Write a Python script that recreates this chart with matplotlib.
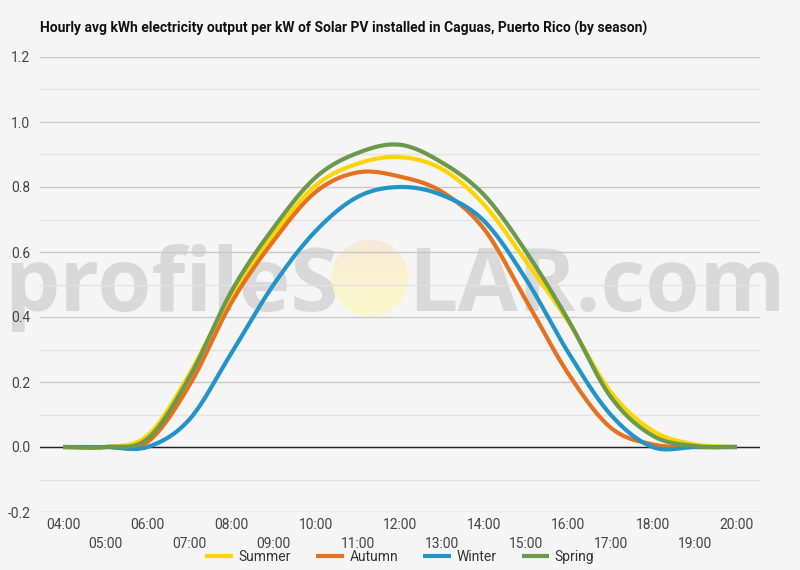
import numpy as np
import matplotlib
matplotlib.use("Agg")
import matplotlib.pyplot as plt
from matplotlib.patches import Circle
from matplotlib.ticker import MultipleLocator

# hourly values (04:00 .. 20:00)
hours = np.arange(4, 21)
hour_labels = [f"{h:02d}:00" for h in hours]
summer = [0, 0, 0.035, 0.225, 0.47, 0.655, 0.805, 0.872, 0.892, 0.855, 0.745, 0.57, 0.385, 0.17, 0.05, 0.008, 0]
autumn = [0, 0, 0.015, 0.19, 0.445, 0.635, 0.785, 0.845, 0.832, 0.785, 0.67, 0.45, 0.225, 0.06, 0.008, 0, 0]
winter = [0, 0, 0, 0.085, 0.29, 0.50, 0.665, 0.77, 0.80, 0.775, 0.695, 0.515, 0.29, 0.1, 0.0, 0, 0]
spring = [0, 0, 0.025, 0.215, 0.48, 0.675, 0.83, 0.905, 0.93, 0.875, 0.775, 0.60, 0.39, 0.155, 0.035, 0.003, 0]

series = [("Summer", summer, "#FFD500"),
          ("Autumn", autumn, "#E6711F"),
          ("Winter", winter, "#2394C7"),
          ("Spring", spring, "#6B9A4C")]

title = "Hourly avg kWh electricity output per kW of Solar PV installed in Caguas, Puerto Rico (by season)"


# smooth curve like the "function" curve type (Catmull-Rom)
def smooth(x, y, n=30):
    x = np.asarray(x, float)
    y = np.asarray(y, float)
    m = np.zeros_like(y)
    m[1:-1] = (y[2:] - y[:-2]) / 2
    m[0] = y[1] - y[0]
    m[-1] = y[-1] - y[-2]
    xs, ys = [], []
    for i in range(len(x) - 1):
        t = np.linspace(0, 1, n, endpoint=False)
        h00 = 2*t**3 - 3*t**2 + 1
        h10 = t**3 - 2*t**2 + t
        h01 = -2*t**3 + 3*t**2
        h11 = t**3 - t**2
        xs.append(x[i] + t*(x[i+1] - x[i]))
        ys.append(h00*y[i] + h10*m[i] + h01*y[i+1] + h11*m[i+1])
    xs.append([x[-1]])
    ys.append([y[-1]])
    return np.concatenate(xs), np.concatenate(ys)


plt.rcParams['font.family'] = ['Roboto', 'DejaVu Sans']
bg = "#f5f5f5"

fig = plt.figure(figsize=(8, 5.7), dpi=100, facecolor=bg)

# watermark layer, in pixel coords, under the chart
wax = fig.add_axes([0, 0, 1, 1], zorder=-1)
wm = dict(fontsize=63, fontweight='bold', family='Open Sans', color="#d9d9d9",
          ha='left', va='baseline', zorder=1)
wax.text(4, 311, "profileS", **wm)
wax.text(408, 311, "LAR.com", **wm)
grad = np.linspace(0, 1, 100)[:, None]
sun_cmap = matplotlib.colors.LinearSegmentedColormap.from_list(
    "sun", ["#faf8cc", "#f9f2cf", "#f7e9da"])
sun_img = wax.imshow(grad, cmap=sun_cmap, extent=(330, 410, 240, 318), aspect='auto', zorder=2)
sun = Circle((370, 278), 38.5, transform=wax.transData, facecolor='none', edgecolor='none')
wax.add_patch(sun)
sun_img.set_clip_path(sun)
wax.set_xlim(0, 800)
wax.set_ylim(570, 0)
wax.axis('off')

ax = fig.add_axes([0.05, 1 - 512/570, 0.90, (512 - 57)/570])
ax.set_facecolor('none')

for name, vals, col in series:
    xs, ys = smooth(hours, vals)
    ax.plot(xs, ys, color=col, lw=3, label=name, solid_capstyle='butt', zorder=3)

ax.axhline(0, color="#222222", lw=1, zorder=2)

ax.set_xlim(3.45, 20.55)
ax.set_ylim(-0.2, 1.2)
ax.yaxis.set_major_locator(MultipleLocator(0.2))
ax.yaxis.set_minor_locator(MultipleLocator(0.1))
ax.grid(axis='y', which='major', color="#c8c8c8", lw=1, zorder=0)
ax.grid(axis='y', which='minor', color="#e2e2e2", lw=1, zorder=0)
ax.set_yticklabels([f"{v:.1f}" for v in ax.get_yticks()])

ax.set_xticks(hours[::2], labels=hour_labels[::2])
ax.set_xticks(hours[1::2], labels=hour_labels[1::2], minor=True)
ax.tick_params(axis='x', which='major', length=0, pad=4, labelsize=10, labelcolor="#444444")
ax.tick_params(axis='x', which='minor', length=0, pad=18, labelsize=10, labelcolor="#444444")
ax.tick_params(axis='y', which='both', length=0, pad=7, labelsize=10, labelcolor="#444444")
for s in ax.spines.values():
    s.set_visible(False)

fig.text(40/800, 1 - 28/570, title, fontsize=10, fontweight='bold', color="#111111",
         ha='left', va='center')

fig.legend(loc='center', bbox_to_anchor=(0.5, 1 - 557/570), ncol=4, frameon=False,
           fontsize=10, handlelength=2.0, handletextpad=0.4, columnspacing=1.8,
           labelcolor="#333333")

fig.savefig("out.png", dpi=100, facecolor=bg)
